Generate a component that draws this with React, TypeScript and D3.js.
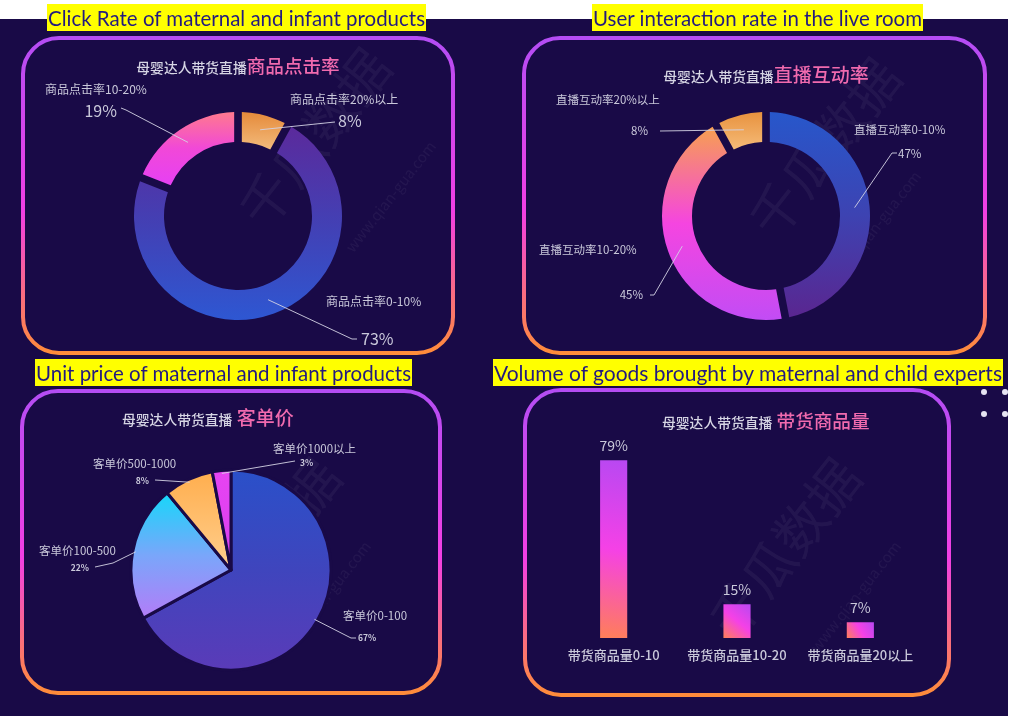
import React from "react";
import * as d3 from "d3";

// ---------- data ----------
const clickNames = ["商品点击率20%以上", "商品点击率0-10%", "商品点击率10-20%"];
const clickValues = [8, 73, 19];
const interactNames = ["直播互动率0-10%", "直播互动率10-20%", "直播互动率20%以上"];
const interactValues = [47, 45, 8];
const priceNames = ["客单价0-100", "客单价100-500", "客单价500-1000", "客单价1000以上"];
const priceValues = [67, 22, 8, 3];
const volumeNames = ["带货商品量0-10", "带货商品量10-20", "带货商品量20以上"];
const volumeValues = [79, 15, 7];

const headers = [
  "Click Rate of maternal and infant products",
  "User interaction rate in the live room",
  "Unit price of maternal and infant products",
  "Volume of goods brought by maternal and child experts",
];
const subtitlePrefix = "母婴达人带货直播";
const subtitles = ["商品点击率", "直播互动率", " 客单价", " 带货商品量"];

// ---------- styles / layout ----------
const BG = "#190a47";
const CJK = "'Noto Sans CJK SC', 'Noto Sans', sans-serif";
const LABEL = "#c9c8da";
const PINK = "#f06aae";

const clickColors = [
  ["#e58a3a", "#f3bb7c"],
  ["#5b2a9c", "#4340b4", "#2e57d2"],
  ["#ff7a8e", "#f148d8", "#e640f4"],
];
const interactColors = [
  ["#2757cb", "#3d43b2", "#5a2690"],
  ["#f7a050", "#f545e0", "#c24cf5"],
  ["#e8923e", "#f5bb78"],
];
const priceColors = [
  ["#2a50c9", "#3f45bd", "#5a3bb8"],
  ["#16d7fa", "#7aa6fa", "#b37cf8"],
  ["#ffae4e", "#ffcf8e"],
  ["#e744f2", "#d83ef0"],
];

type Lay = { elbow?: [number, number]; end: [number, number]; pct: [number, number, string]; name: [number, number, string] };

const clickLayout: Lay[] = [
  { end: [97, -94], pct: [100, -89, "start"], name: [52, -112, "start"] },
  { elbow: [114, 123], end: [119, 123], pct: [123, 129, "start"], name: [88, 90, "start"] },
  { elbow: [-112, -106], end: [-117, -108], pct: [-121, -99, "end"], name: [-193, -122, "start"] },
];
const interactLayout: Lay[] = [
  { elbow: [126, -63], end: [131, -63], pct: [132, -58, "start"], name: [88, -82, "start"] },
  { elbow: [-112, 79], end: [-116, 79], pct: [-123, 83, "end"], name: [-227, 38, "start"] },
  { end: [-106, -85], pct: [-118, -81, "end"], name: [-210, -112, "start"] },
];
const priceLayout: Lay[] = [
  { elbow: [120, 68], end: [125, 68], pct: [127, 71, "start"], name: [112, 50, "start"] },
  { elbow: [-118, -7], end: [-136, -3], pct: [-142, 1, "end"], name: [-192, -15, "start"] },
  { end: [-76, -90], pct: [-82, -86, "end"], name: [-138, -102, "start"] },
  { end: [64, -109], pct: [69, -104, "start"], name: [42, -117, "start"] },
];

function Grad({ id, colors }: { id: string; colors: string[] }) {
  return (
    <linearGradient id={id} x1={0} y1={0} x2={0} y2={1}>
      {colors.map((c, i) => (
        <stop key={i} offset={colors.length === 1 ? 0 : i / (colors.length - 1)} stopColor={c} />
      ))}
    </linearGradient>
  );
}

function Donut({
  id, cx, cy, names, values, colors, layout, inner, outer, pad, nameSize, pctSize, pctWeight, stroke, lineFromOuter,
}: any) {
  const pie = d3.pie<number>().sort(null).value((d) => d);
  const arcs = pie(values);
  const arc = d3.arc<d3.PieArcDatum<number>>().innerRadius(inner).outerRadius(outer).padAngle(pad);
  const edgeArc = d3.arc<d3.PieArcDatum<number>>().innerRadius(outer - 3).outerRadius(outer - 3);
  return (
    <g transform={`translate(${cx},${cy})`}>
      <defs>
        {colors.map((c: string[], i: number) => (
          <Grad key={i} id={`${id}-g${i}`} colors={c} />
        ))}
      </defs>
      {arcs.map((a, i) => (
        <path key={i} d={arc(a) || ""} fill={`url(#${id}-g${i})`} stroke={stroke || "none"} strokeWidth={stroke ? 3 : 0} strokeLinejoin="round" />
      ))}
      {arcs.map((a, i) => {
        const L: Lay = layout[i];
        const s = lineFromOuter ? edgeArc.centroid(a) : arc.centroid(a);
        const pts = [s, ...(L.elbow ? [L.elbow] : []), L.end];
        const line = d3.line()(pts as [number, number][]);
        return (
          <g key={"l" + i}>
            <path d={line || ""} fill="none" stroke="#d4d3e4" strokeWidth={1} opacity={0.9} />
            <text x={L.pct[0]} y={L.pct[1]} textAnchor={L.pct[2] as any} fill={LABEL} fontSize={pctSize} fontWeight={pctWeight} fontFamily={CJK}>
              {values[i]}%
            </text>
            <text x={L.name[0]} y={L.name[1]} textAnchor={L.name[2] as any} fill={LABEL} fontSize={nameSize} fontFamily={CJK}>
              {names[i]}
            </text>
          </g>
        );
      })}
    </g>
  );
}

function Frame({ i, x, y, w, h }: { i: number; x: number; y: number; w: number; h: number }) {
  return (
    <g>
      <defs>
        <linearGradient id={`frame${i}`} gradientUnits="userSpaceOnUse" x1={0} y1={y} x2={0} y2={y + h}>
          <stop offset={0} stopColor="#b44df4" />
          <stop offset={0.55} stopColor="#f23fe4" />
          <stop offset={1} stopColor="#ff8c3a" />
        </linearGradient>
      </defs>
      <rect x={x} y={y} width={w} height={h} rx={36} ry={36} fill="none" stroke={`url(#frame${i})`} strokeWidth={4} />
    </g>
  );
}

function Header({ x, y, w, text }: { x: number; y: number; w: number; text: string }) {
  return (
    <g>
      <rect x={x} y={y} width={w} height={27} fill="#ffff00" />
      <text x={x + 1} y={y + 22} fontFamily="Lato, 'Open Sans', sans-serif" fontSize={21} fill="#231a80" textLength={w - 2} lengthAdjust="spacingAndGlyphs">
        {text}
      </text>
    </g>
  );
}

function Subtitle({ x, y, main, anchor = "start", small = 13.8, big = 18.6 }: any) {
  return (
    <text x={x} y={y} textAnchor={anchor} fontFamily={CJK} fontWeight={500} style={{ whiteSpace: "pre" }}>
      <tspan fill="#d6d5e4" fontSize={small}>{subtitlePrefix}</tspan>
      <tspan fill={PINK} fontSize={big}>{main}</tspan>
    </text>
  );
}

function Bars() {
  const x = d3.scaleBand<string>().domain(volumeNames).range([552, 922]).paddingInner(0.78).paddingOuter(0.39);
  const y = d3.scaleLinear().domain([0, 100]).range([638, 413]);
  return (
    <g>
      {volumeNames.map((n, i) => {
        const bx = x(n) as number;
        const by = y(volumeValues[i]);
        const bw = x.bandwidth();
        const bh = y(0) - by;
        return (
          <g key={n}>
            <defs>
              <linearGradient id={`bar${i}`} gradientUnits="userSpaceOnUse" x1={bx + bw} y1={by} x2={bx} y2={by + bh}>
                <stop offset={0} stopColor="#b848f2" />
                <stop offset={0.5} stopColor="#f541e6" />
                <stop offset={1} stopColor="#ff7f58" />
              </linearGradient>
            </defs>
            <rect x={bx} y={by} width={bw} height={bh} fill={`url(#bar${i})`} />
            <text x={bx + bw / 2} y={by - 9} textAnchor="middle" fill={LABEL} fontSize={14} fontFamily={CJK}>
              {volumeValues[i]}%
            </text>
            <text x={bx + bw / 2} y={660} textAnchor="middle" fill={LABEL} fontSize={13} fontWeight={500} fontFamily={CJK}>
              {n}
            </text>
          </g>
        );
      })}
    </g>
  );
}

function Watermarks() {
  const marks: [number, number, string, number][] = [
    [330, 150, "千瓜数据", 52],
    [395, 200, "www.qian-gua.com", 15],
    [840, 160, "千瓜数据", 52],
    [880, 230, "www.qian-gua.com", 15],
    [280, 560, "千瓜数据", 52],
    [330, 600, "www.qian-gua.com", 15],
    [800, 560, "千瓜数据", 52],
    [860, 600, "www.qian-gua.com", 15],
  ];
  return (
    <g opacity={0.05}>
      {marks.map(([mx, my, t, s], i) => (
        <text key={i} x={mx} y={my} transform={`rotate(-52 ${mx} ${my})`} textAnchor="middle" fontSize={s} fill="#ffffff" fontFamily={CJK}>
          {t}
        </text>
      ))}
    </g>
  );
}

export default function App() {
  return (
    <div style={{ position: "absolute", left: 0, top: 0, width: 1024, height: 716, background: "#ffffff" }}>
      <svg width={1024} height={716} style={{ display: "block" }}>
        <rect x={0} y={19} width={1008} height={697} fill={BG} />
        <Watermarks />

        <Frame i={0} x={23} y={38} w={430} h={315} />
        <Frame i={1} x={524} y={38} w={461} h={315} />
        <Frame i={2} x={22} y={391} w={418} h={302} />
        <Frame i={3} x={525} y={390} w={424} h={305} />

        <Header x={47} y={4} w={379} text={headers[0]} />
        <Header x={592} y={4} w={331} text={headers[1]} />
        <Header x={35} y={359} w={377} text={headers[2]} />
        <Header x={493} y={359} w={510} text={headers[3]} />

        <Subtitle x={238} y={73} main={subtitles[0]} anchor="middle" />
        <Subtitle x={766} y={82} main={subtitles[1]} anchor="middle" big={19} />
        <Subtitle x={122} y={425} main={subtitles[2]} anchor="start" big={19} />
        <Subtitle x={662} y={428} main={subtitles[3]} anchor="start" />

        <Donut id="d1" cx={238} cy={216} names={clickNames} values={clickValues} colors={clickColors} layout={clickLayout}
          inner={74} outer={104} pad={0.06} nameSize={12} pctSize={16} pctWeight={400} />
        <Donut id="d2" cx={766} cy={216} names={interactNames} values={interactValues} colors={interactColors} layout={interactLayout}
          inner={74} outer={104} pad={0.06} nameSize={11.5} pctSize={11.5} pctWeight={400} />
        <Donut id="p3" cx={231} cy={570} names={priceNames} values={priceValues} colors={priceColors} layout={priceLayout}
          inner={0} outer={100} pad={0} nameSize={11.5} pctSize={8.5} pctWeight={700} stroke={BG} lineFromOuter />

        <Bars />

        {[984, 1005].map((dx) =>
          [392, 414].map((dy) => <circle key={dx + "-" + dy} cx={dx} cy={dy} r={3} fill="#e6e4f2" />)
        )}
      </svg>
    </div>
  );
}
